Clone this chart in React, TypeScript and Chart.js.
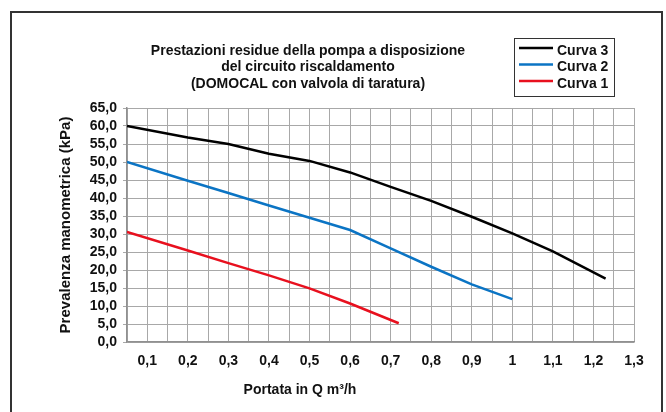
import React, { useEffect, useRef } from 'react';
import { Chart, registerables } from 'chart.js';

Chart.register(...registerables);

const FONT = '"Liberation Sans", Arial, Helvetica, sans-serif';

const titleLines = [
  'Prestazioni residue della pompa a disposizione',
  'del circuito riscaldamento',
  '(DOMOCAL con valvola di taratura)',
];
const xAxisTitle = 'Portata in Q m³/h';
const yAxisTitle = 'Prevalenza manometrica (kPa)';

const seriesLabels = ['Curva 3', 'Curva 2', 'Curva 1'];
const seriesColors = ['#000000', '#0b74c4', '#e8101e'];

const curva3X = [0.05, 0.2, 0.3, 0.4, 0.5, 0.6, 0.7, 0.8, 0.9, 1.0, 1.1, 1.23];
const curva3Y = [60.0, 56.8, 55.0, 52.3, 50.3, 47.1, 43.1, 39.2, 34.8, 30.2, 25.2, 17.6];

const curva2X = [0.05, 0.2, 0.3, 0.4, 0.5, 0.6, 0.7, 0.8, 0.9, 1.0];
const curva2Y = [50.0, 44.8, 41.4, 37.9, 34.5, 31.1, 26.0, 20.9, 16.0, 11.9];

const curva1X = [0.05, 0.2, 0.3, 0.4, 0.5, 0.6, 0.72];
const curva1Y = [30.6, 25.4, 21.9, 18.5, 14.9, 10.7, 5.2];

const xTickLabels = ['0,1', '0,2', '0,3', '0,4', '0,5', '0,6', '0,7', '0,8', '0,9', '1', '1,1', '1,2', '1,3'];
const yTickLabels = ['0,0', '5,0', '10,0', '15,0', '20,0', '25,0', '30,0', '35,0', '40,0', '45,0', '50,0', '55,0', '60,0', '65,0'];

const toPoints = (xs: number[], ys: number[]) => xs.map((x, i) => ({ x, y: ys[i] }));

const decorPlugin = {
  id: 'decor',
  beforeDraw(chart: any) {
    const ctx = chart.ctx;
    ctx.save();
    ctx.strokeStyle = '#333333';
    ctx.lineWidth = 2;
    ctx.strokeRect(11, 12, 651, 420);
    ctx.restore();
  },
  afterDraw(chart: any) {
    const ctx = chart.ctx;
    ctx.save();
    ctx.fillStyle = '#111111';
    ctx.textBaseline = 'middle';

    // title
    ctx.font = `bold 14px ${FONT}`;
    ctx.textAlign = 'center';
    titleLines.forEach((t, i) => ctx.fillText(t, 308, 51 + i * 16.5));

    // legend box
    ctx.strokeStyle = '#333333';
    ctx.lineWidth = 1;
    ctx.strokeRect(514.5, 38.5, 100, 58);
    ctx.textAlign = 'left';
    chart.data.datasets.forEach((ds: any, i: number) => {
      const cy = 51 + i * 16.5;
      ctx.strokeStyle = ds.borderColor;
      ctx.lineWidth = 2.5;
      ctx.beginPath();
      ctx.moveTo(519, cy - 3);
      ctx.lineTo(553, cy - 3);
      ctx.stroke();
      ctx.fillStyle = '#111111';
      ctx.fillText(ds.label, 557, cy);
    });

    // x axis title
    ctx.textAlign = 'center';
    ctx.font = `bold 14px ${FONT}`;
    ctx.fillText(xAxisTitle, 300, 390);
    ctx.restore();
  },
};

export default function App() {
  const ref = useRef<HTMLCanvasElement | null>(null);

  useEffect(() => {
    if (!ref.current) return;
    const chart = new Chart(ref.current, {
      type: 'line',
      data: {
        datasets: [
          { label: seriesLabels[0], data: toPoints(curva3X, curva3Y), borderColor: seriesColors[0], backgroundColor: seriesColors[0] },
          { label: seriesLabels[1], data: toPoints(curva2X, curva2Y), borderColor: seriesColors[1], backgroundColor: seriesColors[1] },
          { label: seriesLabels[2], data: toPoints(curva1X, curva1Y), borderColor: seriesColors[2], backgroundColor: seriesColors[2] },
        ],
      },
      options: {
        animation: false,
        responsive: false,
        devicePixelRatio: 1,
        layout: { padding: { top: 108, right: 32, bottom: 0, left: 50 } },
        elements: {
          line: { borderWidth: 2.5, tension: 0 },
          point: { radius: 0, hoverRadius: 0 },
        },
        plugins: {
          legend: { display: false },
          title: { display: false },
          tooltip: { enabled: false },
        },
        scales: {
          x: {
            type: 'linear',
            min: 0.05,
            max: 1.3,
            afterFit: (s: any) => { s.height = 70; },
            grid: { color: '#a8a8a8', lineWidth: 1, drawTicks: false },
            border: { color: '#909090', width: 1.5 },
            ticks: {
              stepSize: 0.05,
              autoSkip: false,
              maxRotation: 0,
              padding: 11,
              color: '#111111',
              font: { family: FONT, size: 14, weight: 'bold' },
              callback: (v: any) => {
                const k = Math.round(Number(v) * 100);
                if (k % 10 !== 0) return '';
                return xTickLabels[k / 10 - 1] ?? '';
              },
            },
          },
          y: {
            min: 0,
            max: 65,
            afterFit: (s: any) => { s.width = 77; },
            grid: { color: '#a8a8a8', lineWidth: 1, drawTicks: true, tickLength: 4 },
            border: { color: '#909090', width: 1.5 },
            title: {
              display: true,
              text: yAxisTitle,
              color: '#111111',
              font: { family: FONT, size: 15, weight: 'bold' },
              padding: { top: 7, bottom: 0 },
            },
            ticks: {
              stepSize: 5,
              autoSkip: false,
              padding: 6,
              color: '#111111',
              font: { family: FONT, size: 14, weight: 'bold' },
              callback: (v: any) => yTickLabels[Math.round(Number(v) / 5)] ?? '',
            },
          },
        },
      },
      plugins: [decorPlugin],
    } as any);
    return () => chart.destroy();
  }, []);

  return (
    <div style={{ position: 'fixed', left: 0, top: 0, width: 666, height: 412, background: '#ffffff' }}>
      <canvas ref={ref} width={666} height={412} style={{ display: 'block', width: 666, height: 412 }} />
    </div>
  );
}
